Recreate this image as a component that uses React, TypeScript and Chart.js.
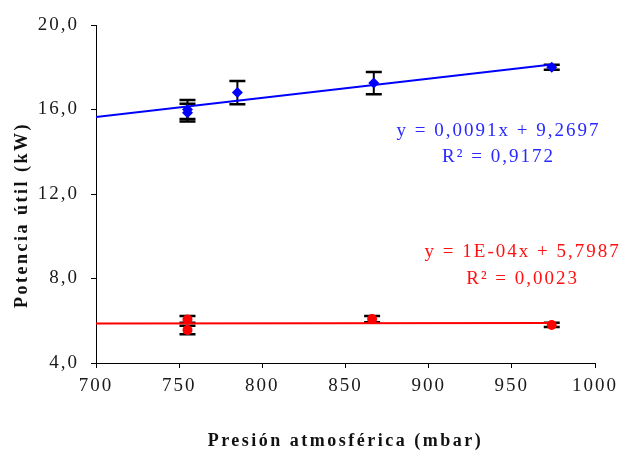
import React, { useEffect, useRef } from "react";
import { Chart, registerables } from "chart.js";

Chart.register(...registerables);

// ---- data ----
const xMin = 700;
const xMax = 1000;
const xStep = 50;
const yMin = 4;
const yMax = 20;
const yStep = 4;

const blueX = [755, 755, 785, 867, 974];
const blueY = [16.0, 15.85, 16.8, 17.25, 18.0];
const blueErr = [0.45, 0.42, 0.55, 0.53, 0.12];

const redX = [755, 755, 866, 974];
const redY = [6.06, 5.56, 6.08, 5.8];
const redErr = [0.16, 0.2, 0.15, 0.1];

const trendRange = [700, 974];
const blueFit = [0.0091, 9.2697]; // slope, intercept
const redFit = [0.0001, 5.7987];

const blueLabels = ["y = 0,0091x + 9,2697", "R² = 0,9172"];
const redLabels = ["y = 1E-04x + 5,7987", "R² = 0,0023"];
const xTitle = "Presión atmosférica (mbar)";
const yTitle = "Potencia útil (kW)";

const BLUE = "#0000ff";
const RED = "#ff0000";
const SERIF = '"Liberation Serif", "Times New Roman", serif';

const errorBarPlugin = {
  id: "errorBars",
  beforeDatasetsDraw(chart: any) {
    const { ctx, scales } = chart;
    const x = scales.x;
    const y = scales.y;
    ctx.save();
    ctx.strokeStyle = "#000";
    chart.data.datasets.forEach((ds: any) => {
      if (!ds.errors) return;
      ds.data.forEach((p: any, i: number) => {
        const e = ds.errors[i];
        const px = x.getPixelForValue(p.x);
        const top = y.getPixelForValue(p.y + e);
        const bot = y.getPixelForValue(p.y - e);
        ctx.lineWidth = 2;
        ctx.beginPath();
        ctx.moveTo(px, top);
        ctx.lineTo(px, bot);
        ctx.stroke();
        ctx.lineWidth = 2.5;
        ctx.beginPath();
        ctx.moveTo(px - 8, top);
        ctx.lineTo(px + 8, top);
        ctx.moveTo(px - 8, bot);
        ctx.lineTo(px + 8, bot);
        ctx.stroke();
      });
    });
    ctx.restore();
  },
};

const textPlugin = {
  id: "texts",
  beforeDraw(chart: any) {
    chart.ctx.letterSpacing = "2px";
  },
  afterDraw(chart: any) {
    const { ctx, scales } = chart;
    const x = scales.x;
    const y = scales.y;
    ctx.save();
    ctx.letterSpacing = "2px";
    ctx.textAlign = "center";
    ctx.textBaseline = "alphabetic";
    ctx.font = `19px ${SERIF}`;
    ctx.fillStyle = "#2828ff";
    ctx.fillText(blueLabels[0], x.getPixelForValue(942), y.getPixelForValue(14.75));
    ctx.fillText(blueLabels[1], x.getPixelForValue(942), y.getPixelForValue(13.51));
    ctx.fillStyle = "#ff1010";
    ctx.fillText(redLabels[0], x.getPixelForValue(956.5), y.getPixelForValue(9.03));
    ctx.fillText(redLabels[1], x.getPixelForValue(956.5), y.getPixelForValue(7.72));

    // axis titles
    ctx.fillStyle = "#111";
    ctx.letterSpacing = "2.5px";
    ctx.font = `bold 18px ${SERIF}`;
    ctx.textBaseline = "middle";
    ctx.fillText(xTitle, (x.left + x.right) / 2, 441);
    ctx.save();
    ctx.translate(22, 215);
    ctx.rotate(-Math.PI / 2);
    ctx.fillText(yTitle, 0, 0);
    ctx.restore();
    ctx.restore();
    ctx.letterSpacing = "0px";
  },
};

export default function App() {
  const ref = useRef<HTMLCanvasElement | null>(null);

  useEffect(() => {
    if (!ref.current) return;
    const trendLine = (fit: number[]) =>
      trendRange.map((v) => ({ x: v, y: fit[0] * v + fit[1] }));

    const chart = new Chart(ref.current, {
      type: "scatter",
      data: {
        datasets: [
          {
            label: "blue",
            data: blueX.map((v, i) => ({ x: v, y: blueY[i] })),
            errors: blueErr,
            pointStyle: "rectRot",
            pointRadius: 5.5,
            backgroundColor: BLUE,
            borderColor: BLUE,
            borderWidth: 0,
            showLine: false,
          } as any,
          {
            label: "red",
            data: redX.map((v, i) => ({ x: v, y: redY[i] })),
            errors: redErr,
            pointStyle: "circle",
            pointRadius: 5,
            backgroundColor: RED,
            borderColor: RED,
            borderWidth: 0,
            showLine: false,
          } as any,
          {
            label: "blueTrend",
            data: trendLine(blueFit),
            showLine: true,
            borderColor: BLUE,
            borderWidth: 2,
            pointRadius: 0,
          },
          {
            label: "redTrend",
            data: trendLine(redFit),
            showLine: true,
            borderColor: RED,
            borderWidth: 2,
            pointRadius: 0,
          },
        ],
      },
      options: {
        responsive: false,
        animation: false,
        layout: { padding: { left: 0, right: 24, top: 25, bottom: 0 } },
        plugins: {
          legend: { display: false },
          tooltip: { enabled: false },
        },
        scales: {
          x: {
            type: "linear",
            min: xMin,
            max: xMax,
            ticks: {
              stepSize: xStep,
              color: "#1a1a1a",
              font: { family: SERIF, size: 19 },
              padding: 7,
              callback: (v: any) => String(v),
            },
            grid: {
              drawOnChartArea: false,
              drawTicks: true,
              tickLength: 5,
              color: "#000",
            },
            border: { color: "#000", width: 1 },
            afterFit: (s: any) => {
              s.height = 90;
            },
          },
          y: {
            type: "linear",
            min: yMin,
            max: yMax,
            ticks: {
              stepSize: yStep,
              color: "#1a1a1a",
              font: { family: SERIF, size: 19 },
              padding: 12,
              callback: (v: any) => Number(v).toFixed(1).replace(".", ","),
            },
            grid: {
              drawOnChartArea: false,
              drawTicks: true,
              tickLength: 5,
              color: "#000",
            },
            border: { color: "#000", width: 1 },
            afterFit: (s: any) => {
              s.width = 96;
            },
          },
        },
      },
      plugins: [errorBarPlugin, textPlugin],
    } as any);
    return () => chart.destroy();
  }, []);

  return (
    <div style={{ position: "absolute", left: 0, top: 0, width: 621, height: 453, background: "#fff" }}>
      <canvas ref={ref} width={621} height={453} />
    </div>
  );
}
